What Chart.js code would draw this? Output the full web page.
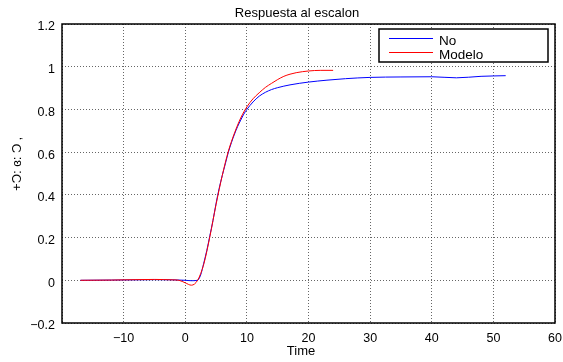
<!DOCTYPE html>
<html><head><meta charset="utf-8">
<script src="https://cdn.jsdelivr.net/npm/chart.js@4.4.1/dist/chart.umd.min.js"></script>
<style>html,body{margin:0;padding:0;background:#fff}#wrap{width:563px;height:362px}</style>
</head><body><div id="wrap"><canvas id="c" width="563" height="362"></canvas></div>
<script>
const titleText = 'Respuesta al escalon';
const xLabel = 'Time';
const yLabel = '+Ɔ: ɞ: Ɔ ‚';
const seriesNames = ['No', 'Modelo'];
const timeNo   = [-17, -12, -8, -5, -2, 0, 1, 2, 2.5, 3, 3.5, 4, 4.5, 5, 5.5, 6, 6.5, 7, 7.5, 8, 8.5, 9, 9.5, 10, 11, 12, 13, 14, 15, 17, 20, 23, 26, 30, 35, 40, 44, 48, 52];
const valuesNo = [0, 0.001, 0.002, 0.003, 0.002, 0, -0.002, 0, 0.025, 0.08, 0.14, 0.21, 0.28, 0.36, 0.43, 0.49, 0.545, 0.6, 0.645, 0.685, 0.72, 0.75, 0.778, 0.80, 0.835, 0.862, 0.88, 0.893, 0.902, 0.915, 0.928, 0.937, 0.944, 0.95, 0.952, 0.953, 0.948, 0.955, 0.958];
const timeModelo   = [-17, -12, -8, -5, -2, -1, 0, 1, 2, 3, 4, 5, 6, 7, 8, 9, 10, 11, 12, 13, 14, 15, 16, 17, 18, 20, 22, 24];
const valuesModelo = [0, 0.001, 0.003, 0.004, 0.002, 0, -0.012, -0.023, 0, 0.075, 0.205, 0.355, 0.49, 0.605, 0.69, 0.76, 0.812, 0.85, 0.878, 0.903, 0.922, 0.94, 0.955, 0.965, 0.972, 0.98, 0.983, 0.983];
const xTicks = [-20, -10, 0, 10, 20, 30, 40, 50, 60];
const yTicks = [-0.2, 0, 0.2, 0.4, 0.6, 0.8, 1, 1.2];

const FONT = '"Liberation Sans", Arial, sans-serif';
const fmt = v => { const r = Math.round(v * 10) / 10; return (r < 0 ? '\u2212' : '') + String(Math.abs(r)); };

const decor = {
  id: 'decor',
  afterDraw(chart) {
    const ctx = chart.ctx, a = chart.chartArea;
    ctx.save();
    ctx.strokeStyle = '#000'; ctx.lineWidth = 1.5;
    ctx.strokeRect(a.left, a.top, a.right - a.left, a.bottom - a.top);
    ctx.fillStyle = '#000';
    ctx.textAlign = 'center'; ctx.textBaseline = 'middle';
    ctx.font = '13px ' + FONT;
    ctx.fillText(titleText, 297, 13);
    ctx.fillText(xLabel, 301, 351);
    ctx.save();
    ctx.translate(17, 164); ctx.rotate(-Math.PI / 2);
    ctx.font = '13px ' + FONT;
    ctx.fillText(yLabel, 0, 0);
    ctx.restore();
    const lx = 379, ly = 29, lw = 169, lh = 33;
    ctx.fillStyle = '#fff';
    ctx.fillRect(lx, ly, lw, lh);
    ctx.strokeStyle = '#000'; ctx.lineWidth = 1.5;
    ctx.strokeRect(lx, ly, lw, lh);
    const ds = chart.data.datasets;
    const rows = [[38.5, 41], [52.5, 55.5]];
    ctx.font = '13.5px ' + FONT;
    ctx.textAlign = 'left';
    rows.forEach((r, i) => {
      ctx.strokeStyle = ds[i].borderColor; ctx.lineWidth = 1;
      ctx.beginPath(); ctx.moveTo(389, r[0]); ctx.lineTo(433, r[0]); ctx.stroke();
      ctx.fillStyle = '#000';
      ctx.fillText(ds[i].label, 439, r[1]);
    });
    ctx.restore();
  }
};

new Chart(document.getElementById('c'), {
  type: 'line',
  data: {
    datasets: [
      { label: seriesNames[0], data: timeNo.map((t, i) => ({ x: t, y: valuesNo[i] })), borderColor: '#0000ff', borderWidth: 1, pointRadius: 0, cubicInterpolationMode: 'monotone', order: 2 },
      { label: seriesNames[1], data: timeModelo.map((t, i) => ({ x: t, y: valuesModelo[i] })), borderColor: '#ff0000', borderWidth: 1, pointRadius: 0, cubicInterpolationMode: 'monotone', order: 1 }
    ]
  },
  options: {
    responsive: false,
    animation: false,
    events: [],
    layout: { padding: { top: 24, right: 8, left: 0, bottom: 0 } },
    plugins: { legend: { display: false }, title: { display: false }, tooltip: { enabled: false } },
    scales: {
      x: {
        type: 'linear', min: -20, max: 60,
        afterBuildTicks: s => { s.ticks = xTicks.map(v => ({ value: v })); },
        afterFit: s => { s.height = 39; s.paddingRight = 0; s.paddingLeft = 0; },
        ticks: { padding: 8, color: '#000', font: { family: FONT, size: 12.5 }, maxRotation: 0, autoSkip: false,
          callback: v => (v === xTicks[0] ? '' : fmt(v)) },
        grid: { color: 'rgba(0,0,0,0.6)', lineWidth: 1, drawTicks: false },
        border: { display: false, dash: [1, 2] }
      },
      y: {
        min: -0.2, max: 1.2,
        afterBuildTicks: s => { s.ticks = yTicks.map(v => ({ value: v })); },
        afterFit: s => { s.width = 62; s.paddingTop = 0; s.paddingBottom = 0; },
        ticks: { padding: 7, labelOffset: 3, color: '#000', font: { family: FONT, size: 12.5 }, autoSkip: false, callback: v => fmt(v) },
        grid: { color: 'rgba(0,0,0,0.6)', lineWidth: 1, drawTicks: false },
        border: { display: false, dash: [1, 2] }
      }
    }
  },
  plugins: [decor]
});
</script>
</body></html>
